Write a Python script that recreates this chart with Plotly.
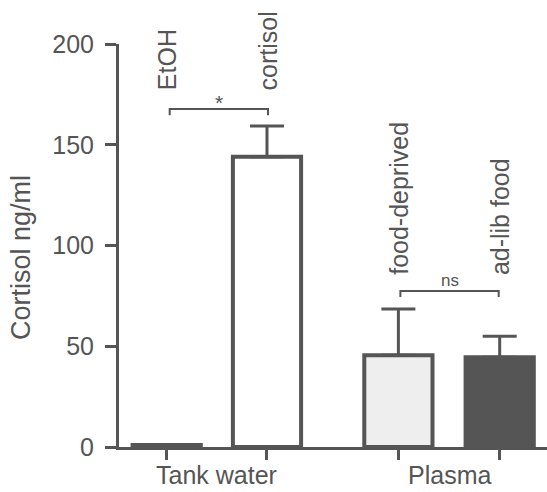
import plotly.graph_objects as go

# ---- data ----
categories = ["EtOH", "cortisol", "food-deprived", "ad-lib food"]
positions = [1.0, 2.0, 3.31, 4.32]
means = [1.0, 144.0, 45.5, 44.5]
errors = [0.0, 15.3, 23.0, 10.5]
groups = ["Tank water", "Plasma"]
group_pos = [1.5, 3.815]
fills = ["#ffffff", "#ffffff", "#eeeeee", "#555555"]
sig_pairs = [(1.03, 2.01, 167.7, "*"), (3.33, 4.31, 77.4, "ns")]
y_ticks = [0, 50, 100, 150, 200]
y_title = "Cortisol ng/ml"

DARK = "#555555"
FONT = "Liberation Sans, Arial, sans-serif"

fig = go.Figure()
fig.add_trace(go.Bar(
    x=positions, y=means, width=0.68,
    marker=dict(color=fills, line=dict(color=DARK, width=4)),
    error_y=dict(type="data", array=errors, arrayminus=[0] * len(errors),
                 symmetric=False, color=DARK, thickness=3, width=17),
    showlegend=False, hoverinfo="skip",
))

annotations = []
label_y = [176.2, 176.2, 84.4, 84.4]
for p, c, ly in zip(positions, categories, label_y):
    annotations.append(dict(x=p, y=ly, xref="x", yref="y", text=c, showarrow=False,
                            textangle=-90, xanchor="center", yanchor="bottom",
                            xshift=1,
                            font=dict(size=25, color=DARK, family=FONT)))
for g, gp in zip(groups, group_pos):
    annotations.append(dict(x=gp, y=0, xref="x", yref="y", text=g, showarrow=False,
                            xanchor="center", yanchor="top", yshift=-12,
                            font=dict(size=25, color=DARK, family=FONT)))
shapes = []
for x0, x1, yv, lab in sig_pairs:
    shapes.append(dict(type="path", xref="x", yref="y",
                       path=f"M {x0},{yv-3} L {x0},{yv} L {x1},{yv} L {x1},{yv-3}",
                       line=dict(color=DARK, width=2)))
    annotations.append(dict(x=(x0 + x1) / 2, y=yv, xref="x", yref="y", text=lab,
                            showarrow=False, xanchor="center", yanchor="bottom",
                            yshift=-7 if lab == "*" else -1,
                            font=dict(size=21 if lab == "*" else 17, color=DARK, family=FONT)))
annotations.append(dict(x=(21 - 119) / 428, y=(447 - 258) / 403, xref="paper", yref="paper",
                        text=y_title, showarrow=False, textangle=-90,
                        xanchor="center", yanchor="middle",
                        font=dict(size=27, color=DARK, family=FONT)))

fig.update_layout(
    width=547, height=492,
    margin=dict(l=119, r=0, t=44, b=45),
    paper_bgcolor="white", plot_bgcolor="white",
    font=dict(family=FONT, color=DARK),
    annotations=annotations, shapes=shapes,
    hovermode=False,
    xaxis=dict(range=[0.5245, 4.7917], showgrid=False, zeroline=False,
               showline=True, linecolor=DARK, linewidth=3,
               tickmode="array", tickvals=positions, ticktext=[""] * 4,
               ticks="outside", ticklen=10, tickwidth=3, tickcolor=DARK),
    yaxis=dict(range=[0, 200], showgrid=False, zeroline=False,
               showline=True, linecolor=DARK, linewidth=3,
               tickmode="array", tickvals=y_ticks,
               ticks="outside", ticklen=11, tickwidth=3, tickcolor=DARK,
               tickfont=dict(size=25, color=DARK, family=FONT),
               ticklabelstandoff=6),
)

fig.write_html("out.html", config={"displayModeBar": False},
               post_script="document.body.style.margin='0';")
